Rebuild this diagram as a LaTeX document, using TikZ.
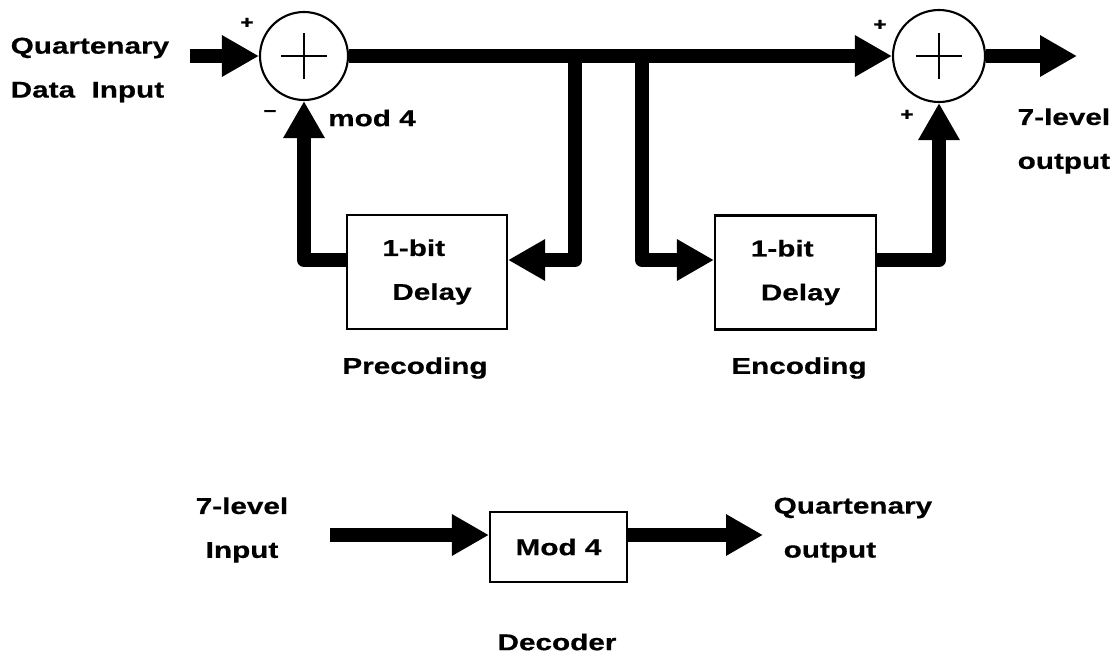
\documentclass[tikz,border=0pt]{standalone}
\usepackage{fontspec}
\newfontfamily\lblfont[FakeStretch=1.3,FakeBold=0.6]{Liberation Sans}
\usetikzlibrary{arrows.meta,positioning,calc}

\begin{document}
\begin{tikzpicture}[
    font=\lblfont\bfseries\fontsize{6.5}{12.5}\selectfont,
    bus/.style={line width=4pt, line join=round, -{Triangle[length=3.7mm,width=3.9mm]}},
    adder/.style={circle, draw, line width=0.6pt, minimum size=#1, inner sep=0pt,
        path picture={\draw[line width=0.4pt]
            ($(path picture bounding box.center)+(-0.23,0)$) -- ++(0.46,0)
            ($(path picture bounding box.center)+(0,-0.23)$) -- ++(0,0.46);}},
    delay/.style={draw, line width=0.6pt, minimum width=1.6cm, minimum height=1.14cm, align=left},
    sign/.style={font=\lblfont\bfseries\fontsize{5}{6}\selectfont, inner sep=0pt},
]
    \useasboundingbox (0,0) rectangle (11.19,6.60);

    % precoder and encoder
    \node[adder=0.88cm] (add1) at (3.04,6.04) {};
    \node[adder=0.92cm] (add2) at (9.39,6.04) {};
    \node[delay] (dly1) at (4.27,3.88) {1-bit\\\hspace{1mm}Delay};
    \node[delay, minimum width=1.61cm] (dly2) at (7.955,3.875) {1-bit\\\hspace{1mm}Delay};

    \node[align=left, anchor=west, inner sep=0pt] (qin lab) at (0.10,5.90) {Quartenary\\Data\ \ Input};
    \node[align=left, anchor=west, inner sep=0pt] (qout lab) at (10.17,5.19) {7-level\\output};
    \node[sign] (s1) at (2.47,6.37) {+};
    \node[sign] (s2) at (2.70,5.47) {–};
    \node[inner sep=0pt] (md) at (3.72,5.42) {mod 4};
    \node[sign] (s3) at (8.80,6.35) {+};
    \node[sign] (s4) at (9.07,5.45) {+};
    \node (pre) at (4.15,2.92) {Precoding};
    \node (enc) at (7.99,2.92) {Encoding};

    \coordinate (qin) at (1.90,6.04);
    \coordinate (qout) at (10.77,6.04);
    \coordinate (tap1) at (5.75,6.04);
    \coordinate (tap2) at (6.42,6.04);
    \coordinate (fb) at (0,4.00);

    \draw[bus] (qin) -- (add1);
    \draw[bus] (add1) -- (add2);
    \draw[bus] (tap1) |- (fb -| dly1.east);
    \draw[bus] (tap2) |- (fb -| dly2.west);
    \draw[bus] (fb -| dly1.west) -| (add1.south);
    \draw[bus] (fb -| dly2.east) -| (add2.south);
    \draw[bus] (add2) -- (qout);

    % decoder
    \node[draw, line width=0.6pt, minimum width=1.37cm, minimum height=0.70cm] (mod) at (5.585,1.13) {Mod 4};
    \node[align=center, inner sep=0pt] (din lab) at (2.42,1.30) {7-level\\Input};
    \node[align=left, anchor=west, inner sep=0pt] (dout lab) at (7.73,1.30) {Quartenary\\\hspace{1mm}output};
    \node (dec) at (5.57,0.18) {Decoder};

    \coordinate (din) at (3.30,1.25);
    \coordinate (dout) at (7.63,1.25);
    \coordinate (dl) at (0,1.25);

    \draw[bus] (din) -- (dl -| mod.west);
    \draw[bus] (mod.east |- dl) -- (dout);
\end{tikzpicture}
\end{document}
